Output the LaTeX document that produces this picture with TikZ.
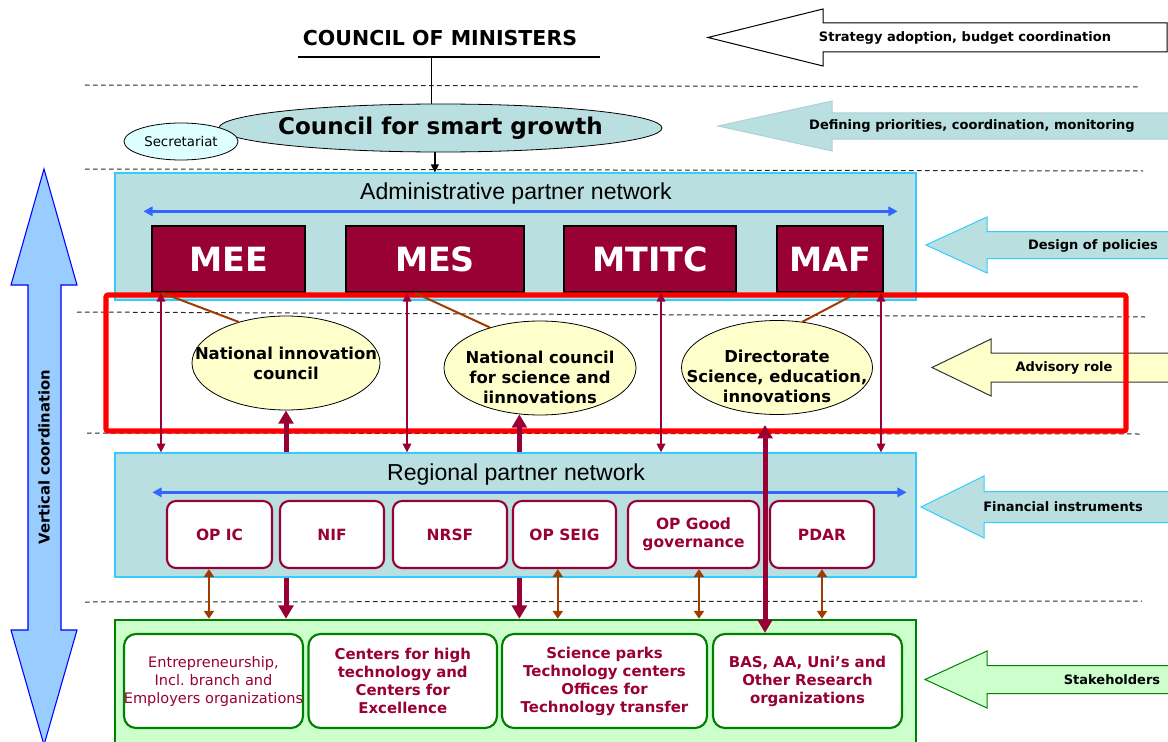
\documentclass[tikz,border=0pt]{standalone}
\usepackage{fontspec}
\setmainfont{DejaVu Sans}
\newfontfamily\arialfont{Liberation Sans}
\usepackage{tikz}
\usetikzlibrary{positioning}
\usetikzlibrary{shapes,shapes.geometric}
\usetikzlibrary{arrows.meta}
\usetikzlibrary{calc}

\newlength\px
\setlength\px{0.75pt}

\definecolor{crimson}{HTML}{990033}
\definecolor{paleteal}{HTML}{B9DFE1}
\definecolor{skyline}{HTML}{33CCFF}
\definecolor{paleyellow}{HTML}{FFFFCC}
\definecolor{palegreen}{HTML}{CCFFCC}
\definecolor{leafgreen}{HTML}{008000}
\definecolor{paleaqua}{HTML}{DDFFFF}
\definecolor{rust}{HTML}{A03C00}
\definecolor{flowblue}{HTML}{3366FF}
\definecolor{vertblue}{HTML}{99CCFF}

\tikzset{
   divider/.style = {%
    draw=black!85,
    line width=0.75pt,
    dash pattern=on 3.5pt off 2.5pt},
   network/.style = {%
    shape=rectangle,
    draw=skyline,
    line width=1pt,
    fill=paleteal,
    minimum width=801\px},
   greenbox/.style = {%
    shape=rectangle,
    draw=leafgreen,
    line width=1.8pt,
    fill=palegreen,
    minimum width=801\px},
   nettext/.style = {%
    font=\arialfont\fontsize{17.3}{17.3}\selectfont},
   ministry/.style = {%
    shape=rectangle,
    draw=black,
    line width=1.4pt,
    fill=crimson,
    text=white,
    inner sep=0pt,
    minimum height=66\px,
    font=\fontsize{25}{25}\selectfont\bfseries},
   fund/.style = {%
    shape=rectangle,
    rounded corners=9\px,
    draw=crimson,
    line width=1.6pt,
    fill=white,
    text=crimson,
    align=center,
    inner sep=0pt,
    minimum height=67\px,
    font=\fontsize{11.6}{13.5}\selectfont\bfseries},
   stake/.style = {%
    shape=rectangle,
    rounded corners=12\px,
    draw=leafgreen,
    line width=1.6pt,
    fill=white,
    text=crimson,
    align=center,
    inner xsep=0pt,
    minimum height=94\px,
    font=\fontsize{11.2}{13.5}\selectfont\bfseries},
   council/.style = {%
    shape=ellipse,
    draw=black,
    line width=0.6pt,
    fill=paleyellow,
    inner sep=0pt,
    minimum height=94\px},
   counciltext/.style = {%
    align=center,
    font=\fontsize{12.3}{15}\selectfont\bfseries},
   advisory/.style = {%
    shape=rectangle,
    draw=red,
    line width=3.8pt,
    rounded corners=1.5pt},
   sidetext/.style = {%
    font=\fontsize{9.75}{12}\selectfont\bfseries},
   tie/.style = {%
    draw=rust,
    line width=1.5pt},
   flowline/.style = {%
    draw=flowblue,
    line width=2pt,
    {Triangle[width=7pt,length=7pt]}-{Triangle[width=7pt,length=7pt]}},
   thinlink/.style = {%
    draw=crimson,
    line width=1.1pt,
    {Triangle[width=6.5pt,length=6.5pt]}-{Triangle[width=6.5pt,length=6.5pt]}},
   thicklink/.style = {%
    draw=crimson,
    line width=3.75pt,
    -{Triangle[width=11pt,length=10pt]}},
   thickboth/.style = {%
    thicklink,
    {Triangle[width=11pt,length=10pt]}-{Triangle[width=11pt,length=10pt]}},
   rustlink/.style = {%
    draw=rust,
    line width=1.5pt,
    {Triangle[width=7.5pt,length=6pt]}-{Triangle[width=7.5pt,length=6pt]}},
    }

% left-pointing block arrow: style, tip x, y, head base x, head half, shaft half, end x
\newcommand\blockarrow[7]{%
    \draw[#1] (#2,#3) -- (#4,#3-#5) -- (#4,#3-#6) -- (#7,#3-#6)
        -- (#7,#3+#6) -- (#4,#3+#6) -- (#4,#3+#5) -- cycle;}

\begin{document}
\begin{tikzpicture}[x=0.75pt, y=-0.75pt]
    \useasboundingbox (0,0) rectangle (1168,742);

    \draw[divider] (85,85) -- (1141,87);
    \draw[divider] (85,169) -- (1143,171);
    \draw[divider] (77,312) -- (1145,317);
    \draw[divider] (87,433) -- (1140,434);
    \draw[divider] (85,602) -- (1142,601);

    % vertical coordination
    \draw[fill=vertblue, draw=blue, line width=0.8pt]
        (44,169) -- (77,285) -- (61,285) -- (61,630) -- (77,630) -- (44,745)
        -- (11,630) -- (28,630) -- (28,285) -- (11,285) -- cycle;
    \node[rotate=90, font=\fontsize{11.1}{12}\selectfont\bfseries] (vertlbl) at (44,457) {Vertical coordination};

    % roles on the right
    \blockarrow{fill=white, draw=black, line width=0.75pt}{708}{37.5}{823}{28.5}{14.5}{1167}
    \blockarrow{fill=paleteal, draw=paleteal!85!gray, line width=0.75pt}{718}{126}{832}{25}{13}{1180}
    \blockarrow{fill=paleteal, draw=skyline, line width=0.75pt}{926}{245}{987}{28}{13.5}{1180}
    \blockarrow{fill=paleyellow, draw=black!80, line width=0.75pt}{932}{367.5}{991}{28.5}{14.5}{1180}
    \blockarrow{fill=paleteal, draw=skyline, line width=0.75pt}{921}{507}{984}{31}{15.5}{1180}
    \blockarrow{fill=palegreen, draw=leafgreen, line width=0.75pt}{925}{679.5}{987}{28.5}{14}{1180}
    \node[sidetext] (strat) at (965,37.5) {Strategy adoption, budget coordination};
    \node[sidetext] (defin) at (972,126) {Defining priorities, coordination, monitoring};
    \node[sidetext] (design) at (1093,246) {Design of policies};
    \node[sidetext] (advis) at (1064,367.5) {Advisory role};
    \node[sidetext] (finan) at (1063,507) {Financial instruments};
    \node[sidetext] (stakeh) at (1112,679.5) {Stakeholders};

    % top level
    \node[font=\fontsize{15.4}{16}\selectfont\bfseries] (com) at (440,38) {COUNCIL OF MINISTERS};
    \coordinate (ruleleft) at (298,57);
    \coordinate (ruleright) at (600,57);
    \draw[line width=2pt] (ruleleft) -- (ruleright);
    \node[ellipse, draw=black, line width=0.6pt, fill=paleteal, inner sep=0pt,
        minimum width=443\px, minimum height=48\px,
        label={[font=\fontsize{17.3}{18}\selectfont\bfseries]center:Council for smart growth}] (csg) at (440.5,128) {};
    \node[ellipse, draw=black, line width=0.6pt, fill=paleaqua, inner sep=0pt,
        minimum width=114\px, minimum height=37\px,
        font=\fontsize{10}{11}\selectfont] (secr) at (181,141.5) {Secretariat};
    \draw[line width=1.1pt] (csg.110 |- ruleleft) -- (csg.110);

    % administrative partner network
    \node[network, minimum height=127\px] (admin) at (515.5,236.5) {};
    \node[nettext] (adminlbl) at (516,194) {Administrative partner network};
    \draw[flowline] ($(admin.north west)+(29,39)$) -- ($(admin.north east)+(-19,39)$);
    \node[ministry, minimum width=153\px] (mee) at (228.5,259) {MEE};
    \node[ministry, minimum width=178\px] (mes) at (435,259) {MES};
    \node[ministry, minimum width=172\px] (mtitc) at (650,259) {MTITC};
    \node[ministry, minimum width=106\px] (maf) at (830,259) {MAF};

    % regional partner network
    \node[network, minimum height=124\px] (regional) at (515.5,515) {};
    \node[nettext] (regionlbl) at (516,475) {Regional partner network};
    \draw[flowline] ($(regional.north west)+(38,40)$) -- ($(regional.north east)+(-10,40)$);
    \node[fund, minimum width=105\px] (opic) at (219.5,534.5) {OP IC};
    \node[fund, minimum width=104\px] (nif) at (332,534.5) {NIF};
    \node[fund, minimum width=114\px] (nrsf) at (450,534.5) {NRSF};
    \node[fund, minimum width=103\px] (opseig) at (564.5,534.5) {OP SEIG};
    \node[fund, minimum width=131\px] (opgood) at (693.5,534.5) {OP Good\\governance};
    \node[fund, minimum width=104\px] (pdar) at (822,534.5) {PDAR};

    % stakeholders
    \node[greenbox, minimum height=140\px] (green) at (515.5,690) {};
    \node[stake, text width=179\px, font=\fontsize{10.9}{13.5}\selectfont] (ent) at (213.5,681)
        {Entrepreneurship,\\Incl.\ branch and\\\makebox[179\px]{Employers organizations}};
    \node[stake, text width=188.5\px] (hitech) at (402.75,681) {Centers for high\\technology and\\Centers for\\Excellence};
    \node[stake, text width=205\px] (parks) at (604.5,681) {Science parks\\Technology centers\\Offices for\\Technology transfer};
    \node[stake, text width=189\px] (bas) at (807.5,681) {BAS, AA, Uni’s and\\Other Research\\organizations};

    % advisory bodies
    \node[council, minimum width=188\px,
        label={[counciltext]center:National innovation\\council}] (nic) at (286,363) {};
    \node[council, minimum width=192\px,
        label={[counciltext, yshift=-9\px]center:National council\\for science and\\iinnovations}] (ncsi) at (540,368) {};
    \node[council, minimum width=191\px,
        label={[counciltext, yshift=-9\px]center:Directorate\\Science, education,\\innovations}] (dir) at (777,367.5) {};
    \node[advisory, minimum width=1020\px, minimum height=136\px] (advbox) at (616,363) {};

    % links
    \draw[-{Triangle[width=6pt,length=6pt]}, line width=1.1pt] (csg.257) -- (csg.257 |- admin.north);
    \draw[tie] ($(mee.south west)+(11,0)$) -- (nic.139);
    \draw[tie] ($(mes.south west)+(70,0)$) -- (ncsi.141);
    \draw[tie] ($(maf.south west)+(81,0)$) -- (dir.61);
    \foreach \x/\n in {161/a,407/b,661/c,881/d} {
        \coordinate (drop\n) at (\x,293);
        \draw[thinlink] (drop\n) -- (drop\n |- regional.north);
    }
    \draw[thicklink] (nic.south |- regional.north) -- (nic.south);
    \draw[thicklink] (ncsi.246 |- regional.north) -- (ncsi.246);
    \draw[thicklink] (nic.south |- regional.south) -- (nic.south |- green.north);
    \draw[thicklink] (ncsi.246 |- regional.south) -- (ncsi.246 |- green.north);
    \coordinate (dirfoot) at (765,425);
    \draw[thickboth] (dirfoot) -- (dirfoot |- bas.north);
    \draw[rustlink] (opic.253) -- (opic.253 |- green.north);
    \draw[rustlink] (opseig.259) -- (opseig.259 |- green.north);
    \draw[rustlink] (opgood.279) -- (opgood.279 |- green.north);
    \draw[rustlink] (pdar.south) -- (pdar.south |- green.north);
\end{tikzpicture}
\end{document}
